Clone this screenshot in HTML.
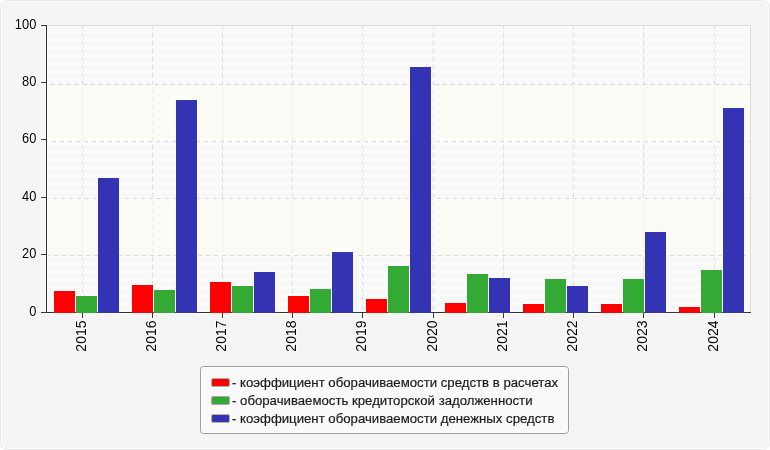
<!DOCTYPE html>
<html><head><meta charset="utf-8"><title>chart</title>
<style>
html,body{margin:0;padding:0;background:#fff;width:770px;height:450px;overflow:hidden}
svg{display:block}
text{font-family:"Liberation Sans",Arial,sans-serif}
</style></head><body>
<svg width="770" height="450" viewBox="0 0 770 450">
<defs>
<pattern id="hw" width="4" height="4" patternUnits="userSpaceOnUse">
<rect width="4" height="4" fill="#ffffff"/>
<path d="M2 0h1v1h-1zM1 1h1v1h-1zM0 2h1v1h-1zM3 3h1v1h-1z" fill="#f0f0f0"/>
</pattern>
</defs>
<rect x="0.5" y="0.5" width="769" height="449" rx="7" ry="7" fill="#f5f5f5" stroke="#e6e6e6"/>
<rect x="1.5" y="1.5" width="767" height="447" rx="6" ry="6" fill="none" stroke="#ffffff"/>

<rect x="47" y="26" width="703" height="286" fill="url(#hw)"/>
<path d="M47 25.5H750.5V312" fill="none" stroke="#dcdcdc"/>
<line x1="47" y1="84.5" x2="750" y2="84.5" stroke="#d9d9d9" stroke-dasharray="4 4" stroke-dashoffset="4"/>
<line x1="47" y1="141.5" x2="750" y2="141.5" stroke="#d9d9d9" stroke-dasharray="4 4" stroke-dashoffset="3"/>
<line x1="47" y1="198.5" x2="750" y2="198.5" stroke="#d9d9d9" stroke-dasharray="4 4" stroke-dashoffset="2"/>
<line x1="47" y1="255.5" x2="750" y2="255.5" stroke="#d9d9d9" stroke-dasharray="4 4" stroke-dashoffset="1"/>
<line x1="82.5" y1="26" x2="82.5" y2="312" stroke="#dcdcdc" stroke-dasharray="4 4" stroke-dashoffset="1"/>
<line x1="152.5" y1="26" x2="152.5" y2="312" stroke="#dcdcdc" stroke-dasharray="4 4" stroke-dashoffset="1"/>
<line x1="222.5" y1="26" x2="222.5" y2="312" stroke="#dcdcdc" stroke-dasharray="4 4" stroke-dashoffset="1"/>
<line x1="292.5" y1="26" x2="292.5" y2="312" stroke="#dcdcdc" stroke-dasharray="4 4" stroke-dashoffset="1"/>
<line x1="362.5" y1="26" x2="362.5" y2="312" stroke="#dcdcdc" stroke-dasharray="4 4" stroke-dashoffset="1"/>
<line x1="433.5" y1="26" x2="433.5" y2="312" stroke="#dcdcdc" stroke-dasharray="4 4" stroke-dashoffset="1"/>
<line x1="503.5" y1="26" x2="503.5" y2="312" stroke="#dcdcdc" stroke-dasharray="4 4" stroke-dashoffset="1"/>
<line x1="573.5" y1="26" x2="573.5" y2="312" stroke="#dcdcdc" stroke-dasharray="4 4" stroke-dashoffset="1"/>
<line x1="643.5" y1="26" x2="643.5" y2="312" stroke="#dcdcdc" stroke-dasharray="4 4" stroke-dashoffset="1"/>
<line x1="714.5" y1="26" x2="714.5" y2="312" stroke="#dcdcdc" stroke-dasharray="4 4" stroke-dashoffset="1"/>
<rect x="47" y="85" width="703" height="56" fill="#fefef4" fill-opacity="0.45"/>
<rect x="47" y="199" width="703" height="56" fill="#fefef4" fill-opacity="0.45"/>
<g stroke="#ffffff" fill="none">
<path d="M45.5 24V314M47.5 26V312M45 313.5H752"/>
<path d="M40 24.5H47M40 26.5H46M40.5 25V26"/>
<path d="M40 81.5H47M40 83.5H46M40.5 82V83"/>
<path d="M40 138.5H47M40 140.5H46M40.5 139V140"/>
<path d="M40 196.5H47M40 198.5H46M40.5 197V198"/>
<path d="M40 253.5H47M40 255.5H46M40.5 254V255"/>
<path d="M40 311.5H47M40 313.5H46M40.5 312V313"/>
<path d="M81.5 313V319M83.5 313V319M82 318.5H83"/>
<path d="M151.5 313V319M153.5 313V319M152 318.5H153"/>
<path d="M221.5 313V319M223.5 313V319M222 318.5H223"/>
<path d="M291.5 313V319M293.5 313V319M292 318.5H293"/>
<path d="M361.5 313V319M363.5 313V319M362 318.5H363"/>
<path d="M432.5 313V319M434.5 313V319M433 318.5H434"/>
<path d="M502.5 313V319M504.5 313V319M503 318.5H504"/>
<path d="M572.5 313V319M574.5 313V319M573 318.5H574"/>
<path d="M642.5 313V319M644.5 313V319M643 318.5H644"/>
<path d="M713.5 313V319M715.5 313V319M714 318.5H715"/>
</g>
<path d="M46.5 25V313M46 312.5H751" fill="none" stroke="#333333"/>
<line x1="41" y1="25.5" x2="46" y2="25.5" stroke="#333333"/>
<line x1="41" y1="82.5" x2="46" y2="82.5" stroke="#333333"/>
<line x1="41" y1="139.5" x2="46" y2="139.5" stroke="#333333"/>
<line x1="41" y1="197.5" x2="46" y2="197.5" stroke="#333333"/>
<line x1="41" y1="254.5" x2="46" y2="254.5" stroke="#333333"/>
<line x1="41" y1="312.5" x2="46" y2="312.5" stroke="#333333"/>
<line x1="82.5" y1="313" x2="82.5" y2="318" stroke="#333333"/>
<line x1="152.5" y1="313" x2="152.5" y2="318" stroke="#333333"/>
<line x1="222.5" y1="313" x2="222.5" y2="318" stroke="#333333"/>
<line x1="292.5" y1="313" x2="292.5" y2="318" stroke="#333333"/>
<line x1="362.5" y1="313" x2="362.5" y2="318" stroke="#333333"/>
<line x1="433.5" y1="313" x2="433.5" y2="318" stroke="#333333"/>
<line x1="503.5" y1="313" x2="503.5" y2="318" stroke="#333333"/>
<line x1="573.5" y1="313" x2="573.5" y2="318" stroke="#333333"/>
<line x1="643.5" y1="313" x2="643.5" y2="318" stroke="#333333"/>
<line x1="714.5" y1="313" x2="714.5" y2="318" stroke="#333333"/>
<rect x="54" y="291" width="21" height="22" fill="#ff0000"/>
<rect x="76" y="296" width="21" height="17" fill="#33aa33"/>
<rect x="98" y="178" width="21" height="135" fill="#3333b3"/>
<rect x="132" y="285" width="21" height="28" fill="#ff0000"/>
<rect x="154" y="290" width="21" height="23" fill="#33aa33"/>
<rect x="176" y="100" width="21" height="213" fill="#3333b3"/>
<rect x="210" y="282" width="21" height="31" fill="#ff0000"/>
<rect x="232" y="286" width="21" height="27" fill="#33aa33"/>
<rect x="254" y="272" width="21" height="41" fill="#3333b3"/>
<rect x="288" y="296" width="21" height="17" fill="#ff0000"/>
<rect x="310" y="289" width="21" height="24" fill="#33aa33"/>
<rect x="332" y="252" width="21" height="61" fill="#3333b3"/>
<rect x="366" y="299" width="21" height="14" fill="#ff0000"/>
<rect x="388" y="266" width="21" height="47" fill="#33aa33"/>
<rect x="410" y="67" width="21" height="246" fill="#3333b3"/>
<rect x="445" y="303" width="21" height="10" fill="#ff0000"/>
<rect x="467" y="274" width="21" height="39" fill="#33aa33"/>
<rect x="489" y="278" width="21" height="35" fill="#3333b3"/>
<rect x="523" y="304" width="21" height="9" fill="#ff0000"/>
<rect x="545" y="279" width="21" height="34" fill="#33aa33"/>
<rect x="567" y="286" width="21" height="27" fill="#3333b3"/>
<rect x="601" y="304" width="21" height="9" fill="#ff0000"/>
<rect x="623" y="279" width="21" height="34" fill="#33aa33"/>
<rect x="645" y="232" width="21" height="81" fill="#3333b3"/>
<rect x="679" y="307" width="21" height="6" fill="#ff0000"/>
<rect x="701" y="270" width="21" height="43" fill="#33aa33"/>
<rect x="723" y="108" width="21" height="205" fill="#3333b3"/>
<g style="will-change:transform" stroke="#ffffff" stroke-width="1.6" stroke-opacity="0.7" paint-order="stroke" stroke-linejoin="round">
<text transform="translate(36.3 29) scale(0.92 1)" font-size="14" text-anchor="end" fill="#000">100</text>
<text transform="translate(36.3 86) scale(0.92 1)" font-size="14" text-anchor="end" fill="#000">80</text>
<text transform="translate(36.3 143) scale(0.92 1)" font-size="14" text-anchor="end" fill="#000">60</text>
<text transform="translate(36.3 201) scale(0.92 1)" font-size="14" text-anchor="end" fill="#000">40</text>
<text transform="translate(36.3 258) scale(0.92 1)" font-size="14" text-anchor="end" fill="#000">20</text>
<text transform="translate(36.3 316) scale(0.92 1)" font-size="14" text-anchor="end" fill="#000">0</text>
<text transform="translate(86,320.5) rotate(-90)" font-size="14" text-anchor="end" fill="#000">2015</text>
<text transform="translate(156,320.5) rotate(-90)" font-size="14" text-anchor="end" fill="#000">2016</text>
<text transform="translate(226,320.5) rotate(-90)" font-size="14" text-anchor="end" fill="#000">2017</text>
<text transform="translate(296,320.5) rotate(-90)" font-size="14" text-anchor="end" fill="#000">2018</text>
<text transform="translate(366,320.5) rotate(-90)" font-size="14" text-anchor="end" fill="#000">2019</text>
<text transform="translate(437,320.5) rotate(-90)" font-size="14" text-anchor="end" fill="#000">2020</text>
<text transform="translate(507,320.5) rotate(-90)" font-size="14" text-anchor="end" fill="#000">2021</text>
<text transform="translate(577,320.5) rotate(-90)" font-size="14" text-anchor="end" fill="#000">2022</text>
<text transform="translate(647,320.5) rotate(-90)" font-size="14" text-anchor="end" fill="#000">2023</text>
<text transform="translate(718,320.5) rotate(-90)" font-size="14" text-anchor="end" fill="#000">2024</text>
</g>
<rect x="200.5" y="366.5" width="368" height="67" rx="3" ry="3" fill="#fafafa" stroke="#a0a0a0"/>
<rect x="211.5" y="378.5" width="18" height="8" rx="1.6" ry="1.6" fill="#ff0000" stroke="#a0b4b4"/>
<rect x="211.5" y="396.5" width="18" height="8" rx="1.6" ry="1.6" fill="#33aa33" stroke="#b4a0b4"/>
<rect x="211.5" y="414.5" width="18" height="8" rx="1.6" ry="1.6" fill="#3333b3" stroke="#b4b4a0"/>
<g style="will-change:transform">
<text x="232" y="386.5" font-size="13.2" fill="#1a1a1a" stroke="#1a1a1a" stroke-width="0.2">- коэффициент оборачиваемости средств в расчетах</text>
<text x="232" y="404.5" font-size="13.2" fill="#1a1a1a" stroke="#1a1a1a" stroke-width="0.2">- оборачиваемость кредиторской задолженности</text>
<text x="232" y="422.5" font-size="13.2" fill="#1a1a1a" stroke="#1a1a1a" stroke-width="0.2">- коэффициент оборачиваемости денежных средств</text>
</g>
</svg></body></html>
